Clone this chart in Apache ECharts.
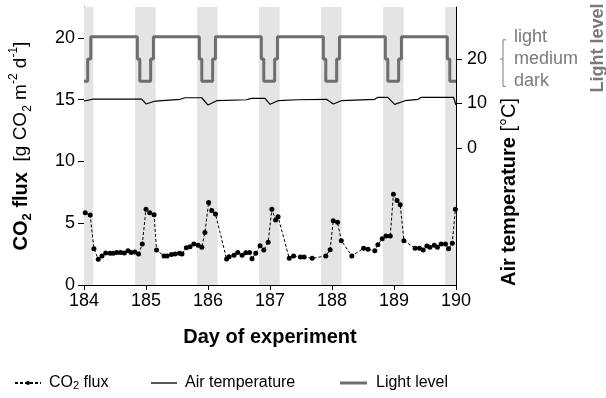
<!DOCTYPE html>
<html><head><meta charset="utf-8">
<script src="https://cdn.jsdelivr.net/npm/echarts@6/dist/echarts.min.js"></script>
<style>html,body{margin:0;padding:0;background:#fff}#c{width:606px;height:398px}</style>
</head><body><div id="c"></div>
<script>
// ---- data ----
const xTicks = [184, 185, 186, 187, 188, 189, 190];
const fluxTicks = [0, 5, 10, 15, 20];
const tempTicks = [0, 10, 20];
const lightNames = ['dark', 'medium', 'light'];

// shaded (dark) periods: [start, end]
const darkStart = [184.0, 184.823, 185.823, 186.823, 187.823, 188.823, 189.823];
const darkEnd   = [184.15, 185.155, 186.155, 187.155, 188.155, 189.155, 190.0];

// CO2 flux [g CO2 m-2 d-1]
const co2Day = [184.02,184.10,184.16,184.23,184.29,184.35,184.42,184.47,184.53,184.59,184.65,184.71,184.76,184.82,184.88,184.94,
  185.00,185.06,185.13,185.17,185.29,185.34,185.41,185.47,185.54,185.58,185.65,185.71,185.77,185.84,185.90,185.95,
  186.01,186.06,186.12,186.30,186.34,186.42,186.48,186.55,186.61,186.67,186.71,186.77,186.84,186.90,186.97,
  187.03,187.09,187.13,187.31,187.38,187.49,187.55,187.68,187.90,187.97,
  188.02,188.09,188.15,188.32,188.51,188.58,188.69,188.74,188.81,188.87,188.94,
  188.99,189.05,189.10,189.16,189.34,189.41,189.47,189.53,189.58,189.65,189.70,189.76,189.83,189.88,189.94,189.99];
const co2Flux = [5.85,5.67,2.94,2.08,2.35,2.59,2.56,2.56,2.64,2.64,2.59,2.78,2.64,2.67,2.51,3.32,
  6.13,5.85,5.69,2.83,2.35,2.35,2.46,2.51,2.56,2.51,3.02,3.10,3.32,3.21,3.05,4.24,
  6.68,6.02,5.75,2.10,2.29,2.40,2.64,2.40,2.62,2.64,2.13,2.56,3.18,2.83,3.45,
  6.13,5.26,5.53,2.16,2.35,2.27,2.27,2.16,2.35,2.86,
  5.20,5.07,3.59,2.35,2.97,2.89,2.78,3.26,3.75,3.97,3.97,
  7.34,6.83,6.50,3.59,2.97,2.97,2.83,3.16,3.05,3.21,3.05,3.32,3.32,2.94,3.37,6.13];

// Air temperature [°C]
const tempDay = [184.0,184.15,184.93,185.0,185.15,185.55,185.63,185.90,186.0,186.14,186.62,186.70,186.92,187.0,187.13,187.45,
  187.91,188.02,188.15,188.69,188.74,188.90,189.01,189.18,189.39,189.44,189.96,190.0];
const tempC = [10.56,11.0,11.0,9.9,10.56,10.95,11.3,11.3,9.66,10.63,10.85,11.17,11.17,9.82,10.63,10.85,
  10.95,9.9,10.63,10.95,11.4,11.4,9.82,10.63,10.95,11.4,11.4,9.66];

// Light level (value from that day onward)
const lightDay = [184.0,184.06,184.11,
  184.86,184.90,185.075,185.12,
  185.86,185.90,186.075,186.12,
  186.86,186.90,187.075,187.12,
  187.86,187.90,188.075,188.12,
  188.86,188.90,189.075,189.12,
  189.86,189.90,190.0];
const lightLevel = ['dark','medium','light',
  'medium','dark','medium','light',
  'medium','dark','medium','light',
  'medium','dark','medium','light',
  'medium','dark','medium','light',
  'medium','dark','medium','light',
  'medium','dark','dark'];

// ---- chart ----
const FONT = '"Liberation Sans", Arial, sans-serif';
const chart = echarts.init(document.getElementById('c'), null, {renderer: 'canvas'});

const co2Data = co2Day.map((d, i) => [d, co2Flux[i]]);
const tempData = tempDay.map((d, i) => [d, tempC[i]]);
const lightData = lightDay.map((d, i) => [d, lightNames.indexOf(lightLevel[i])]);
const bands = darkStart.map((s, i) => [{xAxis: s}, {xAxis: darkEnd[i]}]);

const GRAY = '#7a7a7a';
const tempMin = -30.8, tempMax = 31.7;
const TICK = 18;

const option = {
  animation: false,
  textStyle: {fontFamily: FONT},
  grid: {left: 84, right: 150, top: 7, bottom: 113, containLabel: false},
  xAxis: {
    type: 'value', min: 184, max: 190, interval: 1,
    axisLine: {lineStyle: {color: '#000', width: 1}},
    axisTick: {show: true, length: 5, lineStyle: {color: '#000'}},
    axisLabel: {color: '#000', fontSize: TICK, margin: 7, fontFamily: FONT, customValues: xTicks},
    splitLine: {show: false},
    name: 'Day of experiment', nameLocation: 'middle', nameGap: 42,
    nameTextStyle: {fontWeight: 'bold', fontSize: 20, color: '#000', fontFamily: FONT}
  },
  yAxis: [
    {
      type: 'value', min: 0, max: 22.5, position: 'left',
      axisLine: {show: true, lineStyle: {color: '#000', width: 1}},
      axisTick: {show: true, length: 6, customValues: fluxTicks, lineStyle: {color: '#000'}},
      axisLabel: {color: '#000', fontSize: TICK, margin: 9, customValues: fluxTicks, fontFamily: FONT},
      splitLine: {show: false},
      name: '{b|CO}{bs|2}{b| flux}{n|  [g CO}{s|2}{n| m}{p|-2}{n| d}{p|-1}{n|]}',
      nameLocation: 'middle', nameRotate: 90, nameGap: 50,
      nameTextStyle: {
        color: '#000', fontFamily: FONT,
        rich: {
          b: {fontWeight: 'bold', fontSize: 20, lineHeight: 26, verticalAlign: 'middle', fontFamily: FONT, color: '#000'},
          bs: {fontWeight: 'bold', fontSize: 13, lineHeight: 13, verticalAlign: 'bottom', fontFamily: FONT, color: '#000'},
          n: {fontSize: 19, lineHeight: 26, verticalAlign: 'middle', fontFamily: FONT, color: '#000'},
          s: {fontSize: 12, lineHeight: 12, verticalAlign: 'bottom', fontFamily: FONT, color: '#000'},
          p: {fontSize: 12, lineHeight: 12, verticalAlign: 'top', fontFamily: FONT, color: '#000'}
        }
      }
    },
    {
      type: 'value', min: tempMin, max: tempMax, position: 'right',
      axisLine: {show: true, onZero: false, lineStyle: {color: '#000', width: 1}},
      axisTick: {show: true, length: 6, customValues: tempTicks, lineStyle: {color: '#000'}},
      axisLabel: {color: '#000', fontSize: TICK, margin: 11, customValues: tempTicks, fontFamily: FONT},
      splitLine: {show: false}
    },
    {
      type: 'value', min: (tempMin - 15) / 5, max: (tempMax - 15) / 5, position: 'right', offset: 50,
      axisLine: {show: false}, axisTick: {show: false}, splitLine: {show: false},
      axisLabel: {color: GRAY, fontSize: 18, margin: 8, fontFamily: FONT,
        customValues: [0, 1, 2], formatter: v => lightNames[Math.round(v)]}
    }
  ],
  series: [
    {
      type: 'line', name: 'bands', data: [], z: 1, silent: true,
      markArea: {silent: true, itemStyle: {color: '#e4e4e4'}, data: bands}
    },
    {
      type: 'line', name: 'Light level', yAxisIndex: 2, data: lightData, step: 'end',
      symbol: 'none', z: 3, lineStyle: {color: '#6e6e6e', width: 3}, itemStyle: {color: '#6e6e6e'}
    },
    {
      type: 'line', name: 'Air temperature', yAxisIndex: 1, data: tempData,
      symbol: 'none', z: 4, lineStyle: {color: '#000', width: 1.2}, itemStyle: {color: '#000'}
    },
    {
      type: 'line', name: 'CO2 flux', yAxisIndex: 0, data: co2Data,
      symbol: 'circle', symbolSize: 5, z: 5,
      lineStyle: {color: '#000', width: 1, type: [3, 2]}, itemStyle: {color: '#000'}
    }
  ],
  legend: [
    {data: ['CO2 flux'], left: 14, top: 375, padding: 0, itemWidth: 26, itemHeight: 5, itemGap: 8,
      formatter: () => '{a|CO}{s|2}{a| flux}',
      textStyle: {padding: [0, 0, 0, 3], rich: {a: {fontSize: 16, fontFamily: FONT, color: '#000'}, s: {fontSize: 11, verticalAlign: 'bottom', lineHeight: 10, fontFamily: FONT, color: '#000'}}}},
    {data: [{name: 'Air temperature', icon: 'rect', itemStyle: {color: '#000'}}], left: 151, top: 375, padding: 0,
      itemWidth: 26, itemHeight: 1.3,
      textStyle: {fontSize: 16, fontFamily: FONT, color: '#000', padding: [0, 0, 0, 3]}},
    {data: [{name: 'Light level', icon: 'rect', itemStyle: {color: '#6e6e6e'}}], left: 340, top: 375, padding: 0,
      itemWidth: 27, itemHeight: 3,
      textStyle: {fontSize: 16, fontFamily: FONT, color: '#000', padding: [0, 0, 0, 4]}}
  ]
};
chart.setOption(option);

// bracket for light-level labels, axis titles on the right
const yL = chart.convertToPixel({yAxisIndex: 2}, 2);
const yM = chart.convertToPixel({yAxisIndex: 2}, 1);
const yD = chart.convertToPixel({yAxisIndex: 2}, 0);
const bx = 503;
chart.setOption({
  graphic: [
    {type: 'polyline', silent: true, shape: {points: [[bx + 3, yL + 3], [bx, yL + 3], [bx, yD + 5], [bx + 3, yD + 5]]},
      style: {stroke: GRAY, lineWidth: 1, fill: null}},
    {type: 'line', silent: true, shape: {x1: bx - 3, y1: yM, x2: bx, y2: yM}, style: {stroke: GRAY, lineWidth: 1}},
    {type: 'text', silent: true, x: 598, y: 48, rotation: Math.PI / 2,
      style: {text: 'Light level', fill: GRAY, font: 'bold 18px ' + FONT, textAlign: 'center', textVerticalAlign: 'middle'}},
    {type: 'text', silent: true, x: 509, y: 192, rotation: Math.PI / 2,
      style: {text: '{b|Air temperature}{n| [°C]}', textAlign: 'center', textVerticalAlign: 'middle',
        rich: {
          b: {fontWeight: 'bold', fontSize: 20, fontFamily: FONT, fill: '#000'},
          n: {fontSize: 20, fontFamily: FONT, fill: '#000'}
        }}}
  ]
});
</script></body></html>
